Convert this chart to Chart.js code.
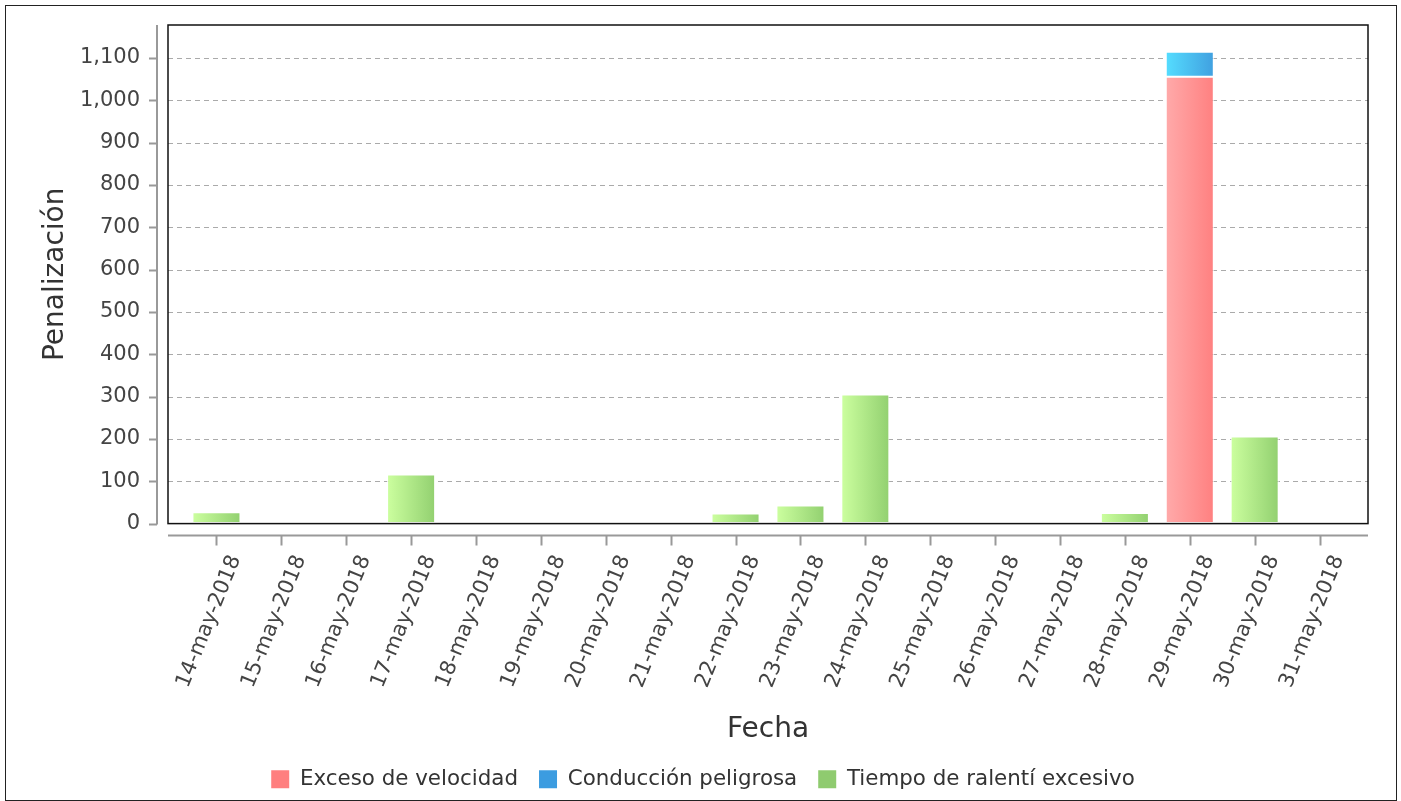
<!DOCTYPE html>
<html lang="es">

<head>
    <meta charset="UTF-8">
    <title>Penalización por fecha</title>
    <script src="https://cdn.jsdelivr.net/npm/chart.js@4"></script>
    <style>
        html, body { margin: 0; padding: 0; background: #fff; overflow: hidden; }
        #marco { position: absolute; left: 5px; top: 5px; width: 1390px; height: 794px; border: 1.5px solid #222; pointer-events: none; }
        canvas { display: block; }
    </style>
</head>

<body>
    <canvas id="myChart" width="1401" height="800"></canvas>
    <div id="marco"></div>

    <script>
        const fechas = [
            '14-may-2018', '15-may-2018', '16-may-2018', '17-may-2018', '18-may-2018', '19-may-2018',
            '20-may-2018', '21-may-2018', '22-may-2018', '23-may-2018', '24-may-2018', '25-may-2018',
            '26-may-2018', '27-may-2018', '28-may-2018', '29-may-2018', '30-may-2018', '31-may-2018'
        ];
        const excesoVelocidad     = [0, 0, 0, 0, 0, 0, 0, 0, 0, 0, 0, 0, 0, 0, 0, 1056, 0, 0];
        const conduccionPeligrosa = [0, 0, 4, 0, 0, 0, 0, 0, 0, 0, 0, 0, 0, 0, 0, 59, 0, 0];
        const ralentiExcesivo     = [27, 0, 0, 116, 0, 0, 0, 0, 24, 43, 305, 0, 0, 0, 25, 0, 206, 0];

        const BAR_PCT = 0.74;

        // gradiente horizontal por barra, calculado con la escala x
        function gradiente(desde, hasta) {
            return (c) => {
                const chart = c.chart;
                const x = chart.scales && chart.scales.x;
                if (c.type !== 'data' || !x || !chart.chartArea) return hasta;
                const cx = x.getPixelForValue(c.dataIndex);
                const w = x.width / fechas.length * BAR_PCT;
                const g = chart.ctx.createLinearGradient(cx - w / 2, 0, cx + w / 2, 0);
                g.addColorStop(0, desde);
                g.addColorStop(1, hasta);
                return g;
            };
        }

        const coloresLeyenda = ['#ff7f7f', '#3c9ce0', '#8fcb6f'];

        // marco negro, líneas de rejilla y ejes grises separados del área
        const marco = {
            id: 'marco',
            afterLayout(chart) {
                // la leyenda va centrada en el lienzo, no en el área con padding
                const lg = chart.legend;
                if (lg) { lg.left += 12; lg.right += 12; }
            },
            beforeDatasetsDraw(chart) {
                const { ctx, chartArea: a, scales: { y } } = chart;
                const l = a.left - 16, r = a.right + 16;
                ctx.save();
                ctx.strokeStyle = '#aaa';
                ctx.lineWidth = 1;
                ctx.setLineDash([5, 4]);
                y.ticks.forEach(t => {
                    if (t.value === 0) return;
                    const py = Math.round(y.getPixelForValue(t.value)) + 0.5;
                    ctx.beginPath();
                    ctx.moveTo(l, py);
                    ctx.lineTo(r, py);
                    ctx.stroke();
                });
                ctx.restore();
            },
            afterDraw(chart) {
                const { ctx, chartArea: a, scales: { x, y } } = chart;
                const l = a.left - 16, r = a.right + 16;
                ctx.save();
                // marco del área de trazado
                ctx.strokeStyle = '#111';
                ctx.lineWidth = 1.5;
                ctx.strokeRect(l, a.top, r - l, a.bottom - a.top);
                // eje y
                ctx.strokeStyle = '#999';
                ctx.lineWidth = 2;
                const ax = l - 11;
                ctx.beginPath();
                ctx.moveTo(ax, a.top);
                ctx.lineTo(ax, a.bottom + 1);
                y.ticks.forEach(t => {
                    const py = Math.round(y.getPixelForValue(t.value)) + 0.5;
                    ctx.moveTo(ax - 8, py);
                    ctx.lineTo(ax, py);
                });
                ctx.stroke();
                // eje x
                const ay = a.bottom + 12;
                ctx.beginPath();
                ctx.moveTo(l, ay);
                ctx.lineTo(r, ay);
                fechas.forEach((f, i) => {
                    const px = Math.round(x.getPixelForValue(i)) + 0.5;
                    ctx.moveTo(px, ay);
                    ctx.lineTo(px, ay + 10);
                });
                ctx.stroke();
                ctx.restore();
            }
        };

        const ctx = document.getElementById('myChart').getContext('2d');
        const myChart = new Chart(ctx, {
            type: 'bar',
            data: {
                labels: fechas,
                datasets: [
                    {
                        label: 'Exceso de velocidad',
                        data: excesoVelocidad,
                        backgroundColor: gradiente('#ffaaaa', '#ff8080'),
                        borderColor: '#ffffff',
                        borderWidth: 1
                    },
                    {
                        label: 'Conducción peligrosa',
                        data: conduccionPeligrosa,
                        backgroundColor: gradiente('#55ddff', '#40a0e0'),
                        borderColor: '#ffffff',
                        borderWidth: 1
                    },
                    {
                        label: 'Tiempo de ralentí excesivo',
                        data: ralentiExcesivo,
                        backgroundColor: gradiente('#ccff9f', '#92d070'),
                        borderColor: '#ffffff',
                        borderWidth: 1
                    }
                ]
            },
            options: {
                responsive: false,
                animation: false,
                datasets: {
                    bar: { categoryPercentage: 1, barPercentage: BAR_PCT, borderSkipped: false }
                },
                layout: { padding: { left: 30, top: 25, right: 49, bottom: 0 } },
                plugins: {
                    tooltip: { enabled: false },
                    legend: {
                        position: 'bottom',
                        labels: {
                            boxWidth: 18,
                            boxHeight: 18,
                            padding: 21,
                            color: '#333',
                            font: { family: 'DejaVu Sans', size: 21.4 },
                            generateLabels(chart) {
                                const items = Chart.defaults.plugins.legend.labels.generateLabels(chart);
                                items.forEach((it, i) => {
                                    it.fillStyle = coloresLeyenda[i];
                                    it.strokeStyle = coloresLeyenda[i];
                                    it.lineWidth = 0;
                                });
                                return items;
                            }
                        }
                    }
                },
                scales: {
                    x: {
                        stacked: true,
                        grid: { display: true, drawOnChartArea: false, drawTicks: true, tickLength: 12, color: 'transparent' },
                        border: { display: false },
                        ticks: {
                            autoSkip: false,
                            minRotation: 68,
                            maxRotation: 68,
                            padding: 16,
                            labelOffset: 19,
                            color: '#444',
                            font: { family: 'DejaVu Sans', size: 21 }
                        },
                        title: {
                            display: true,
                            text: 'Fecha',
                            color: '#333',
                            padding: { top: 0, bottom: 1 },
                            font: { family: 'DejaVu Sans', size: 28 }
                        },
                        afterFit(scale) { scale.height = 224; }
                    },
                    y: {
                        stacked: true,
                        min: 0,
                        max: 1178,
                        grid: { display: true, drawOnChartArea: false, drawTicks: true, tickLength: 36, color: 'transparent' },
                        border: { display: false },
                        ticks: {
                            stepSize: 100,
                            padding: 8,
                            color: '#444',
                            font: { family: 'DejaVu Sans', size: 21 }
                        },
                        afterBuildTicks(scale) {
                            scale.ticks = scale.ticks.filter(t => t.value % 100 === 0);
                        },
                        title: {
                            display: true,
                            text: 'Penalización',
                            color: '#333',
                            padding: { top: 9, bottom: 0 },
                            font: { family: 'DejaVu Sans', size: 28 }
                        },
                        afterFit(scale) { scale.width = 154; }
                    }
                }
            },
            plugins: [marco]
        });
    </script>
</body>

</html>
